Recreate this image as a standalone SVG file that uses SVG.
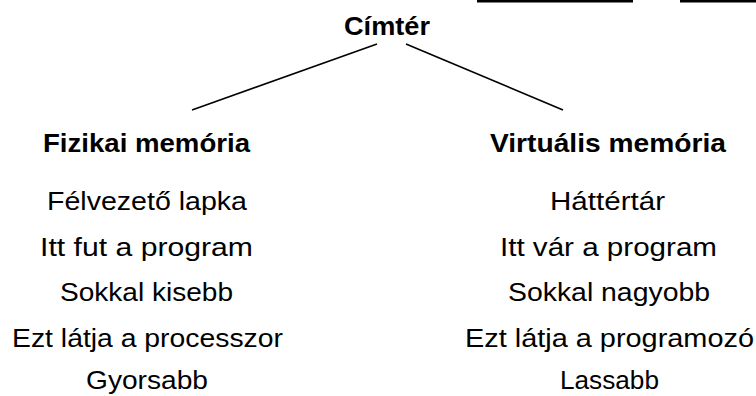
<svg xmlns="http://www.w3.org/2000/svg" width="756" height="396" viewBox="0 0 756 396">
<style>
.t{font-family:"Liberation Sans",Arial,sans-serif;fill:#000;text-anchor:middle}
.b{font-weight:bold;font-size:26px}
.r{font-size:26px}
.c{stroke:#000;stroke-width:1.6;fill:none}
</style>
<rect width="756" height="396" fill="#fff"/>
<rect x="477" y="0" width="156" height="2.5" fill="#000"/>
<rect x="680" y="0" width="76" height="2.5" fill="#000"/>
<g id="connectors">
<line class="c" x1="377" y1="44" x2="192" y2="110"/>
<line class="c" x1="406" y1="44" x2="563" y2="110"/>
</g>
<g id="root">
<text class="t b" x="387" y="35" textLength="86" lengthAdjust="spacingAndGlyphs">Címtér</text>
</g>
<g id="fizikai">
<text class="t b" x="146.5" y="152" textLength="207" lengthAdjust="spacingAndGlyphs">Fizikai memória</text>
<text class="t r" x="147" y="210" textLength="200" lengthAdjust="spacingAndGlyphs">Félvezető lapka</text>
<text class="t r" x="146.5" y="256" textLength="213" lengthAdjust="spacingAndGlyphs">Itt fut a program</text>
<text class="t r" x="146.5" y="301" textLength="173" lengthAdjust="spacingAndGlyphs">Sokkal kisebb</text>
<text class="t r" x="147.5" y="347" textLength="271" lengthAdjust="spacingAndGlyphs">Ezt látja a processzor</text>
<text class="t r" x="147" y="389" textLength="122" lengthAdjust="spacingAndGlyphs">Gyorsabb</text>
</g>
<g id="virtualis">
<text class="t b" x="608" y="152" textLength="236" lengthAdjust="spacingAndGlyphs">Virtuális memória</text>
<text class="t r" x="607.5" y="210" textLength="115" lengthAdjust="spacingAndGlyphs">Háttértár</text>
<text class="t r" x="608.5" y="256" textLength="217" lengthAdjust="spacingAndGlyphs">Itt vár a program</text>
<text class="t r" x="609" y="301" textLength="202" lengthAdjust="spacingAndGlyphs">Sokkal nagyobb</text>
<text class="t r" x="609.5" y="347" textLength="289" lengthAdjust="spacingAndGlyphs">Ezt látja a programozó</text>
<text class="t r" x="609.5" y="389" textLength="99" lengthAdjust="spacingAndGlyphs">Lassabb</text>
</g>
</svg>
